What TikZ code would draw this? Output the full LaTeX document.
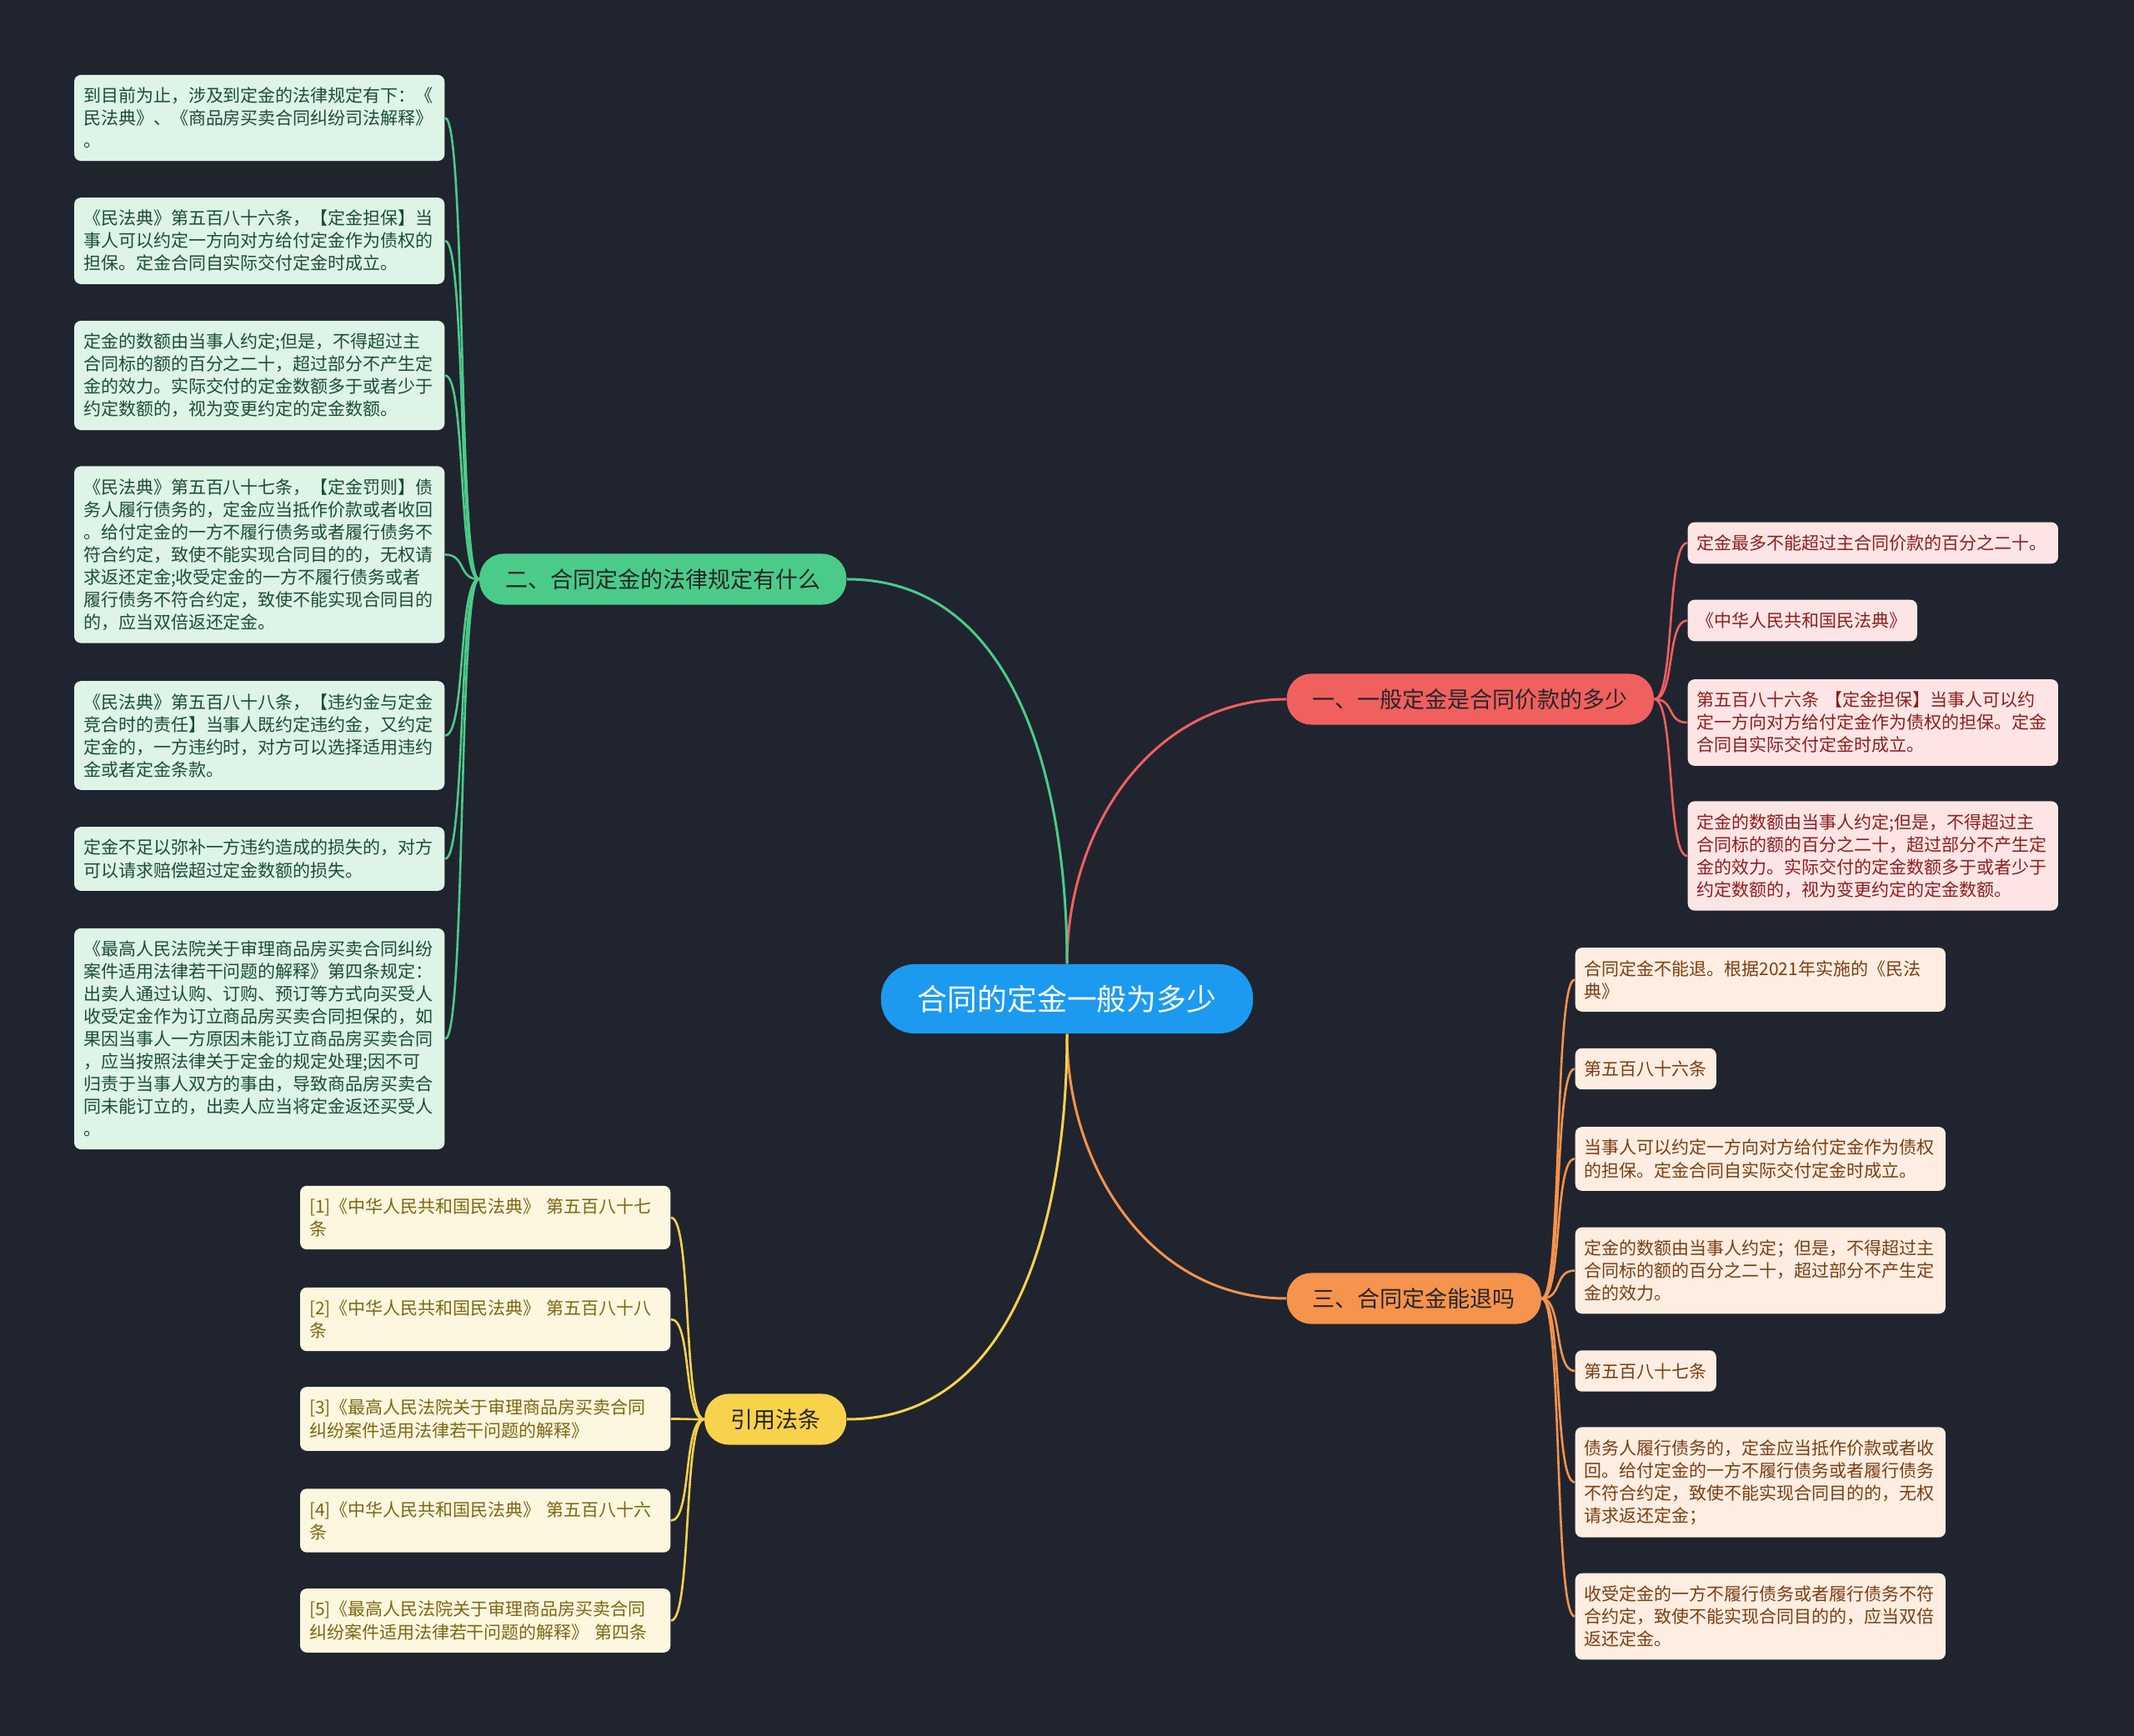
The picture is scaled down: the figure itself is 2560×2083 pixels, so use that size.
\documentclass[tikz,border=0pt]{standalone}
\usepackage{fontspec}
\setmainfont{Noto Sans CJK SC}
\usepackage{tikz}
\usetikzlibrary{positioning, calc}

\definecolor{bgdark}{HTML}{20242F}
\definecolor{rootblue}{HTML}{1B9AEF}
\definecolor{greenbr}{HTML}{4BCB8A}
\definecolor{redbr}{HTML}{F0605F}
\definecolor{orangebr}{HTML}{F6934C}
\definecolor{yellowbr}{HTML}{F9D24C}
\definecolor{greenfill}{HTML}{DDF4E7}
\definecolor{redfill}{HTML}{FDE5E5}
\definecolor{orangefill}{HTML}{FEEDE1}
\definecolor{yellowfill}{HTML}{FDF7DF}
\definecolor{greentext}{HTML}{1C4E33}
\definecolor{redtext}{HTML}{8F1D1D}
\definecolor{orangetext}{HTML}{7A3E13}
\definecolor{yellowtext}{HTML}{7E6614}

\begin{document}
\begin{tikzpicture}[x=0.01cm, y=-0.01cm,
    rootnode/.style={fill=rootblue, text=white, rounded corners=4mm, minimum height=8.3mm, minimum width=44.6mm, inner sep=0pt, font=\fontsize{10.2}{12}\selectfont},
    branch/.style={rounded corners=2.9mm, minimum height=6.1mm, inner xsep=3.1mm, inner ysep=0pt, text=black!85, font=\fontsize{7.68}{9}\selectfont},
    leaf/.style={rounded corners=0.8mm, inner xsep=1.1mm, inner ysep=1.5mm, text width=4.22cm, align=left, font=\fontsize{5.97}{7.68}\selectfont},
    gleaf/.style={leaf, fill=greenfill, text=greentext, anchor=east},
    rleaf/.style={leaf, fill=redfill, text=redtext, anchor=west},
    oleaf/.style={leaf, fill=orangefill, text=orangetext, anchor=west},
    yleaf/.style={leaf, fill=yellowfill, text=yellowtext, anchor=east},
    main/.style={line width=0.3mm},
    tieleft/.style={line width=0.26mm, to path={.. controls +(-25,0) and +(25,0) .. (\tikztotarget)}},
    tieright/.style={line width=0.26mm, to path={.. controls +(25,0) and +(-25,0) .. (\tikztotarget)}}]

    \fill[bgdark] (0,0) rectangle (2560,2083);

    \node[rootnode] (root) at (1280,1198.5) {合同的定金一般为多少};

    \node[branch, fill=redbr, anchor=west] (b1) at (1543,839) {一、一般定金是合同价款的多少};
    \node[branch, fill=greenbr, anchor=east] (b2) at (1016,695) {二、合同定金的法律规定有什么};
    \node[branch, fill=orangebr, anchor=west] (b3) at (1543,1558) {三、合同定金能退吗};
    \node[branch, fill=yellowbr, anchor=east] (b4) at (1016,1703) {引用法条};

    % green leaves
    \node[gleaf] (g1) at (534,141.5) {到目前为止，涉及到定金的法律规定有下：《\\民法典》、《商品房买卖合同纠纷司法解释》\\。};
    \node[gleaf] (g2) at (534,289) {《民法典》第五百八十六条，【定金担保】当\\事人可以约定一方向对方给付定金作为债权的\\担保。定金合同自实际交付定金时成立。};
    \node[gleaf] (g3) at (534,450.5) {定金的数额由当事人约定;但是，不得超过主\\合同标的额的百分之二十，超过部分不产生定\\金的效力。实际交付的定金数额多于或者少于\\约定数额的，视为变更约定的定金数额。};
    \node[gleaf] (g4) at (534,665.5) {《民法典》第五百八十七条，【定金罚则】债\\务人履行债务的，定金应当抵作价款或者收回\\。给付定金的一方不履行债务或者履行债务不\\符合约定，致使不能实现合同目的的，无权请\\求返还定金;收受定金的一方不履行债务或者\\履行债务不符合约定，致使不能实现合同目的\\的，应当双倍返还定金。};
    \node[gleaf] (g5) at (534,882.5) {《民法典》第五百八十八条，【违约金与定金\\竞合时的责任】当事人既约定违约金，又约定\\定金的，一方违约时，对方可以选择适用违约\\金或者定金条款。};
    \node[gleaf] (g6) at (534,1030.5) {定金不足以弥补一方违约造成的损失的，对方\\可以请求赔偿超过定金数额的损失。};
    \node[gleaf] (g7) at (534,1246.5) {《最高人民法院关于审理商品房买卖合同纠纷\\案件适用法律若干问题的解释》第四条规定：\\出卖人通过认购、订购、预订等方式向买受人\\收受定金作为订立商品房买卖合同担保的，如\\果因当事人一方原因未能订立商品房买卖合同\\，应当按照法律关于定金的规定处理;因不可\\归责于当事人双方的事由，导致商品房买卖合\\同未能订立的，出卖人应当将定金返还买受人\\。};

    % red leaves
    \node[rleaf] (r1) at (2024,651.5) {定金最多不能超过主合同价款的百分之二十。};
    \node[rleaf, text width=2.53cm] (r2) at (2024,744.5) {《中华人民共和国民法典》};
    \node[rleaf] (r3) at (2024,867) {第五百八十六条 【定金担保】当事人可以约\\定一方向对方给付定金作为债权的担保。定金\\合同自实际交付定金时成立。};
    \node[rleaf] (r4) at (2024,1027) {定金的数额由当事人约定;但是，不得超过主\\合同标的额的百分之二十，超过部分不产生定\\金的效力。实际交付的定金数额多于或者少于\\约定数额的，视为变更约定的定金数额。};

    % orange leaves
    \node[oleaf] (o1) at (1889,1175.5) {合同定金不能退。根据2021年实施的《民法\\典》};
    \node[oleaf, text width=1.47cm] (o2) at (1889,1282.5) {第五百八十六条};
    \node[oleaf] (o3) at (1889,1390.5) {当事人可以约定一方向对方给付定金作为债权\\的担保。定金合同自实际交付定金时成立。};
    \node[oleaf] (o4) at (1889,1524.5) {定金的数额由当事人约定；但是，不得超过主\\合同标的额的百分之二十，超过部分不产生定\\金的效力。};
    \node[oleaf, text width=1.47cm] (o5) at (1889,1645) {第五百八十七条};
    \node[oleaf] (o6) at (1889,1778.5) {债务人履行债务的，定金应当抵作价款或者收\\回。给付定金的一方不履行债务或者履行债务\\不符合约定，致使不能实现合同目的的，无权\\请求返还定金；};
    \node[oleaf] (o7) at (1889,1939.5) {收受定金的一方不履行债务或者履行债务不符\\合约定，致使不能实现合同目的的，应当双倍\\返还定金。};

    % yellow leaves
    \node[yleaf] (y1) at (805,1461) {[1]《中华人民共和国民法典》 第五百八十七\\条};
    \node[yleaf] (y2) at (805,1583) {[2]《中华人民共和国民法典》 第五百八十八\\条};
    \node[yleaf] (y3) at (805,1702.5) {[3]《最高人民法院关于审理商品房买卖合同\\纠纷案件适用法律若干问题的解释》};
    \node[yleaf] (y4) at (805,1824.5) {[4]《中华人民共和国民法典》 第五百八十六\\条};
    \node[yleaf] (y5) at (805,1944.5) {[5]《最高人民法院关于审理商品房买卖合同\\纠纷案件适用法律若干问题的解释》 第四条};

    % root to branches
    \path (root.north) edge[main, redbr, out=90, in=180] (b1.west);
    \path (root.north) edge[main, greenbr, out=90, in=0] (b2.east);
    \path (root.south) edge[main, orangebr, out=-90, in=180] (b3.west);
    \path (root.south) edge[main, yellowbr, out=-90, in=0] (b4.east);

    % branches to leaves
    \path (b1.east) edge[tieright, redbr] (r1.west) edge[tieright, redbr] (r2.west)
        edge[tieright, redbr] (r3.west) edge[tieright, redbr] (r4.west);
    \path (b2.west) edge[tieleft, greenbr] (g1.east) edge[tieleft, greenbr] (g2.east)
        edge[tieleft, greenbr] (g3.east) edge[tieleft, greenbr] (g4.east)
        edge[tieleft, greenbr] (g5.east) edge[tieleft, greenbr] (g6.east)
        edge[tieleft, greenbr] (g7.east);
    \path (b3.east) edge[tieright, orangebr] (o1.west) edge[tieright, orangebr] (o2.west)
        edge[tieright, orangebr] (o3.west) edge[tieright, orangebr] (o4.west)
        edge[tieright, orangebr] (o5.west) edge[tieright, orangebr] (o6.west)
        edge[tieright, orangebr] (o7.west);
    \path (b4.west) edge[tieleft, yellowbr] (y1.east) edge[tieleft, yellowbr] (y2.east)
        edge[tieleft, yellowbr] (y3.east) edge[tieleft, yellowbr] (y4.east)
        edge[tieleft, yellowbr] (y5.east);
\end{tikzpicture}
\end{document}
